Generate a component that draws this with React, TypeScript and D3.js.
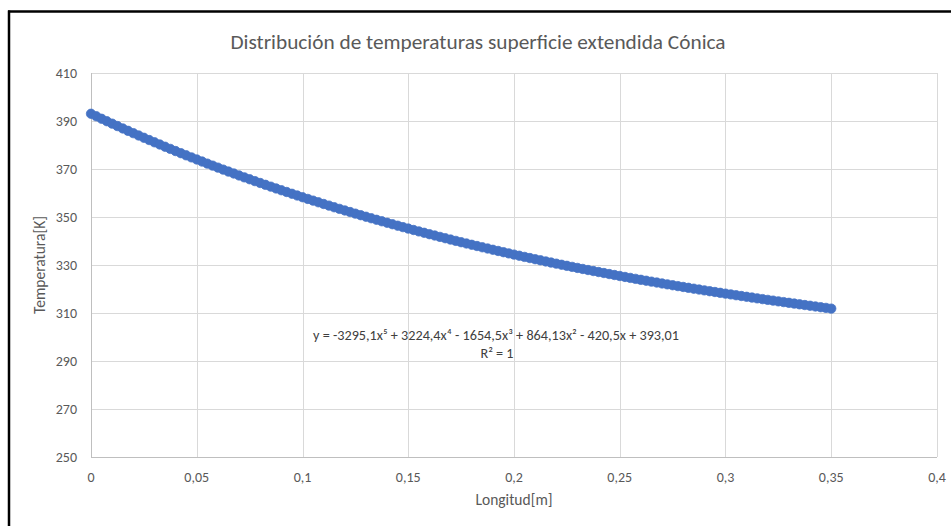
import React from "react";
import * as d3 from "d3";

const lengthValues: number[] = [
  0, 0.0025, 0.005, 0.0075, 0.01, 0.0125, 0.015, 0.0175, 0.02, 0.0225,
  0.025, 0.0275, 0.03, 0.0325, 0.035, 0.0375, 0.04, 0.0425, 0.045, 0.0475,
  0.05, 0.0525, 0.055, 0.0575, 0.06, 0.0625, 0.065, 0.0675, 0.07, 0.0725,
  0.075, 0.0775, 0.08, 0.0825, 0.085, 0.0875, 0.09, 0.0925, 0.095, 0.0975,
  0.1, 0.1025, 0.105, 0.1075, 0.11, 0.1125, 0.115, 0.1175, 0.12, 0.1225,
  0.125, 0.1275, 0.13, 0.1325, 0.135, 0.1375, 0.14, 0.1425, 0.145, 0.1475,
  0.15, 0.1525, 0.155, 0.1575, 0.16, 0.1625, 0.165, 0.1675, 0.17, 0.1725,
  0.175, 0.1775, 0.18, 0.1825, 0.185, 0.1875, 0.19, 0.1925, 0.195, 0.1975,
  0.2, 0.2025, 0.205, 0.2075, 0.21, 0.2125, 0.215, 0.2175, 0.22, 0.2225,
  0.225, 0.2275, 0.23, 0.2325, 0.235, 0.2375, 0.24, 0.2425, 0.245, 0.2475,
  0.25, 0.2525, 0.255, 0.2575, 0.26, 0.2625, 0.265, 0.2675, 0.27, 0.2725,
  0.275, 0.2775, 0.28, 0.2825, 0.285, 0.2875, 0.29, 0.2925, 0.295, 0.2975,
  0.3, 0.3025, 0.305, 0.3075, 0.31, 0.3125, 0.315, 0.3175, 0.32, 0.3225,
  0.325, 0.3275, 0.33, 0.3325, 0.335, 0.3375, 0.34, 0.3425, 0.345, 0.3475,
  0.35,
];

const temperatureValues: number[] = [
  393.01, 391.97, 390.93, 389.91, 388.89, 387.89, 386.89, 385.91, 384.93, 383.97,
  383.01, 382.07, 381.13, 380.21, 379.28, 378.38, 377.47, 376.59, 375.7, 374.83,
  373.96, 373.11, 372.25, 371.41, 370.57, 369.75, 368.93, 368.12, 367.31, 366.52,
  365.73, 364.95, 364.17, 363.41, 362.65, 361.9, 361.15, 360.42, 359.68, 358.96,
  358.24, 357.53, 356.82, 356.13, 355.43, 354.75, 354.06, 353.39, 352.72, 352.07,
  351.41, 350.76, 350.11, 349.48, 348.84, 348.22, 347.6, 346.99, 346.38, 345.78,
  345.18, 344.59, 344.0, 343.42, 342.84, 342.28, 341.71, 341.16, 340.6, 340.05,
  339.5, 338.97, 338.43, 337.91, 337.38, 336.87, 336.35, 335.85, 335.34, 334.84,
  334.34, 333.86, 333.37, 332.9, 332.42, 331.95, 331.48, 331.02, 330.56, 330.11,
  329.66, 329.22, 328.78, 328.35, 327.91, 327.49, 327.07, 326.66, 326.24, 325.83,
  325.42, 325.02, 324.62, 324.23, 323.83, 323.45, 323.07, 322.69, 322.31, 321.94,
  321.57, 321.21, 320.85, 320.49, 320.13, 319.78, 319.43, 319.09, 318.75, 318.41,
  318.07, 317.74, 317.41, 317.08, 316.75, 316.43, 316.11, 315.79, 315.47, 315.16,
  314.85, 314.55, 314.24, 313.93, 313.62, 313.32, 313.02, 312.72, 312.42, 312.13,
  311.83,
];

const xTicks: number[] = [0, 0.05, 0.1, 0.15, 0.2, 0.25, 0.3, 0.35, 0.4];
const yTicks: number[] = [250, 270, 290, 310, 330, 350, 370, 390, 410];

const title = "Distribución de temperaturas superficie extendida Cónica";
const xTitle = "Longitud[m]";
const yTitle = "Temperatura[K]";
const equation = "y = -3295,1x⁵ + 3224,4x⁴ - 1654,5x³ + 864,13x² - 420,5x + 393,01";
const rSquared = "R² = 1";

const W = 951;
const H = 526;
const plot = { left: 91, right: 937, top: 73, bottom: 457 };
const font = "Carlito, Calibri, Lato, 'Liberation Sans', sans-serif";
const textColor = "#595959";
const markerColor = "#4472C4";

const fmt = (v: number) => String(v).replace(".", ",");

export default function App() {
  const x = d3.scaleLinear().domain([0, 0.4]).range([plot.left, plot.right]);
  const y = d3.scaleLinear().domain([250, 410]).range([plot.bottom, plot.top]);
  const points = lengthValues.map((lv, i) => ({ x: lv, y: temperatureValues[i] }));

  return (
    <svg
      width={W}
      height={H}
      viewBox={`0 0 ${W} ${H}`}
      style={{ position: "absolute", left: 0, top: 0, background: "#fff" }}
      fontFamily={font}
    >
      <rect x={0} y={0} width={W} height={H} fill="#fff" />
      {/* outer frame */}
      <line x1={8} x2={W} y1={11.5} y2={11.5} stroke="#000" strokeWidth={2.5} />
      <line x1={9} x2={9} y1={10.5} y2={H} stroke="#000" strokeWidth={2.5} />

      {/* horizontal grid */}
      {yTicks.map((t) =>
        t === 250 ? null : (
          <line
            key={"hg" + t}
            x1={plot.left}
            x2={plot.right}
            y1={Math.round(y(t)) + 0.5}
            y2={Math.round(y(t)) + 0.5}
            stroke="#D9D9D9"
            strokeWidth={1}
          />
        )
      )}
      {/* vertical grid */}
      {xTicks.map((t) =>
        t === 0 ? null : (
          <line
            key={"vg" + t}
            x1={Math.round(x(t)) + 0.5}
            x2={Math.round(x(t)) + 0.5}
            y1={plot.top}
            y2={plot.bottom}
            stroke="#D9D9D9"
            strokeWidth={1}
          />
        )
      )}
      {/* axes lines */}
      <line x1={plot.left} x2={plot.right} y1={plot.bottom + 0.5} y2={plot.bottom + 0.5} stroke="#BFBFBF" strokeWidth={1} />
      <line x1={plot.left + 0.5} x2={plot.left + 0.5} y1={plot.top} y2={plot.bottom} stroke="#BFBFBF" strokeWidth={1} />

      {/* y tick labels */}
      {yTicks.map((t) => (
        <text
          key={"yl" + t}
          x={77}
          y={y(t)}
          dy="0.35em"
          textAnchor="end"
          fontSize={14}
          fill={textColor}
        >
          {t}
        </text>
      ))}
      {/* x tick labels */}
      {xTicks.map((t) => (
        <text
          key={"xl" + t}
          x={x(t)}
          y={482}
          textAnchor="middle"
          fontSize={14}
          fill={textColor}
        >
          {fmt(t)}
        </text>
      ))}

      {/* title */}
      <text x={478} y={49} textAnchor="middle" fontSize={21.3} fill={textColor}>
        {title}
      </text>
      {/* axis titles */}
      <text x={514} y={505} textAnchor="middle" fontSize={15.5} fill={textColor}>
        {xTitle}
      </text>
      <text
        transform={`translate(45, 265) rotate(-90)`}
        textAnchor="middle"
        fontSize={15.5}
        fill={textColor}
      >
        {yTitle}
      </text>

      {/* markers */}
      {points.map((p, i) => (
        <circle
          key={"p" + i}
          cx={x(p.x)}
          cy={y(p.y)}
          r={4.7}
          fill={markerColor}
          stroke={markerColor}
          strokeWidth={0.75}
        />
      ))}

      {/* trendline label */}
      <text x={496} y={340} textAnchor="middle" fontSize={14.2} fill="#404040">
        {equation}
      </text>
      <text x={497} y={358} textAnchor="middle" fontSize={14.2} fill="#404040">
        {rSquared}
      </text>
    </svg>
  );
}
